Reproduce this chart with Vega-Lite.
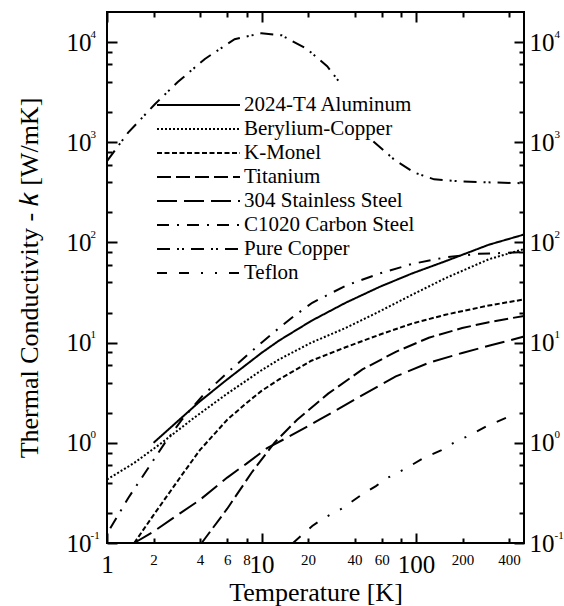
{
  "$schema": "https://vega.github.io/schema/vega-lite/v6.json",
  "width": 417,
  "height": 531,
  "autosize": {"type": "none"},
  "padding": {"left": 107, "top": 12, "right": 40, "bottom": 63},
  "background": "white",
  "config": {
    "view": {"stroke": "black", "strokeWidth": 2},
    "font": "Liberation Serif",
    "axis": {
      "labelFont": "Liberation Serif",
      "titleFont": "Liberation Serif",
      "labelColor": "black",
      "titleColor": "black",
      "tickColor": "black",
      "tickWidth": 2,
      "grid": false,
      "domain": false,
      "titleFontWeight": "normal"
    }
  },
  "data": {
    "values": [
      {"m": "2024-T4 Aluminum", "T": 2, "k": 1.0},
      {"m": "2024-T4 Aluminum", "T": 3, "k": 1.75},
      {"m": "2024-T4 Aluminum", "T": 4, "k": 2.6},
      {"m": "2024-T4 Aluminum", "T": 6, "k": 4.3},
      {"m": "2024-T4 Aluminum", "T": 10, "k": 7.9},
      {"m": "2024-T4 Aluminum", "T": 13, "k": 10.5},
      {"m": "2024-T4 Aluminum", "T": 21, "k": 16.5},
      {"m": "2024-T4 Aluminum", "T": 35, "k": 25},
      {"m": "2024-T4 Aluminum", "T": 58, "k": 36},
      {"m": "2024-T4 Aluminum", "T": 94, "k": 49},
      {"m": "2024-T4 Aluminum", "T": 155, "k": 65},
      {"m": "2024-T4 Aluminum", "T": 296, "k": 95},
      {"m": "2024-T4 Aluminum", "T": 500, "k": 120},

      {"m": "Berylium-Copper", "T": 1, "k": 0.43},
      {"m": "Berylium-Copper", "T": 1.5, "k": 0.63},
      {"m": "Berylium-Copper", "T": 2.26, "k": 1.0},
      {"m": "Berylium-Copper", "T": 3.7, "k": 1.8},
      {"m": "Berylium-Copper", "T": 6, "k": 3.1},
      {"m": "Berylium-Copper", "T": 10, "k": 5.3},
      {"m": "Berylium-Copper", "T": 13, "k": 6.8},
      {"m": "Berylium-Copper", "T": 21, "k": 10},
      {"m": "Berylium-Copper", "T": 35, "k": 14},
      {"m": "Berylium-Copper", "T": 58, "k": 20.5},
      {"m": "Berylium-Copper", "T": 94, "k": 30},
      {"m": "Berylium-Copper", "T": 155, "k": 44},
      {"m": "Berylium-Copper", "T": 296, "k": 68},
      {"m": "Berylium-Copper", "T": 500, "k": 86},

      {"m": "K-Monel", "T": 1.5, "k": 0.1},
      {"m": "K-Monel", "T": 2, "k": 0.19},
      {"m": "K-Monel", "T": 3, "k": 0.46},
      {"m": "K-Monel", "T": 4, "k": 0.85},
      {"m": "K-Monel", "T": 6, "k": 1.7},
      {"m": "K-Monel", "T": 8, "k": 2.5},
      {"m": "K-Monel", "T": 10, "k": 3.3},
      {"m": "K-Monel", "T": 13, "k": 4.3},
      {"m": "K-Monel", "T": 21, "k": 6.6},
      {"m": "K-Monel", "T": 35, "k": 9},
      {"m": "K-Monel", "T": 58, "k": 12},
      {"m": "K-Monel", "T": 94, "k": 15.5},
      {"m": "K-Monel", "T": 155, "k": 19},
      {"m": "K-Monel", "T": 296, "k": 23.5},
      {"m": "K-Monel", "T": 500, "k": 27},

      {"m": "Titanium", "T": 4.1, "k": 0.1},
      {"m": "Titanium", "T": 6, "k": 0.22},
      {"m": "Titanium", "T": 8.6, "k": 0.5},
      {"m": "Titanium", "T": 12.1, "k": 1.0},
      {"m": "Titanium", "T": 17, "k": 1.7},
      {"m": "Titanium", "T": 27, "k": 3.1},
      {"m": "Titanium", "T": 45, "k": 5.4},
      {"m": "Titanium", "T": 74, "k": 8.1},
      {"m": "Titanium", "T": 121, "k": 11.2},
      {"m": "Titanium", "T": 199, "k": 14},
      {"m": "Titanium", "T": 296, "k": 16},
      {"m": "Titanium", "T": 500, "k": 18.5},

      {"m": "304 Stainless Steel", "T": 1.5, "k": 0.1},
      {"m": "304 Stainless Steel", "T": 2, "k": 0.13},
      {"m": "304 Stainless Steel", "T": 3, "k": 0.2},
      {"m": "304 Stainless Steel", "T": 4, "k": 0.27},
      {"m": "304 Stainless Steel", "T": 6, "k": 0.45},
      {"m": "304 Stainless Steel", "T": 8, "k": 0.62},
      {"m": "304 Stainless Steel", "T": 10.8, "k": 0.88},
      {"m": "304 Stainless Steel", "T": 15, "k": 1.15},
      {"m": "304 Stainless Steel", "T": 23.7, "k": 1.7},
      {"m": "304 Stainless Steel", "T": 45, "k": 3.0},
      {"m": "304 Stainless Steel", "T": 74, "k": 4.6},
      {"m": "304 Stainless Steel", "T": 121, "k": 6.3},
      {"m": "304 Stainless Steel", "T": 199, "k": 7.9},
      {"m": "304 Stainless Steel", "T": 296, "k": 9.3},
      {"m": "304 Stainless Steel", "T": 500, "k": 11.5},

      {"m": "C1020 Carbon Steel", "T": 1.05, "k": 0.14},
      {"m": "C1020 Carbon Steel", "T": 1.37, "k": 0.28},
      {"m": "C1020 Carbon Steel", "T": 1.76, "k": 0.5},
      {"m": "C1020 Carbon Steel", "T": 2.37, "k": 1.0},
      {"m": "C1020 Carbon Steel", "T": 3.05, "k": 1.7},
      {"m": "C1020 Carbon Steel", "T": 4.2, "k": 3.0},
      {"m": "C1020 Carbon Steel", "T": 6, "k": 5},
      {"m": "C1020 Carbon Steel", "T": 10, "k": 10},
      {"m": "C1020 Carbon Steel", "T": 13, "k": 14},
      {"m": "C1020 Carbon Steel", "T": 16.3, "k": 18.5},
      {"m": "C1020 Carbon Steel", "T": 21.3, "k": 25},
      {"m": "C1020 Carbon Steel", "T": 35, "k": 37},
      {"m": "C1020 Carbon Steel", "T": 58, "k": 49},
      {"m": "C1020 Carbon Steel", "T": 94, "k": 61},
      {"m": "C1020 Carbon Steel", "T": 155, "k": 71},
      {"m": "C1020 Carbon Steel", "T": 255, "k": 77},
      {"m": "C1020 Carbon Steel", "T": 500, "k": 80},

      {"m": "Pure Copper", "T": 1, "k": 650},
      {"m": "Pure Copper", "T": 1.37, "k": 1250},
      {"m": "Pure Copper", "T": 2.04, "k": 2400},
      {"m": "Pure Copper", "T": 2.87, "k": 4000},
      {"m": "Pure Copper", "T": 4.3, "k": 6800},
      {"m": "Pure Copper", "T": 6.7, "k": 10700},
      {"m": "Pure Copper", "T": 10, "k": 12300},
      {"m": "Pure Copper", "T": 13.5, "k": 11700},
      {"m": "Pure Copper", "T": 19.8, "k": 8500},
      {"m": "Pure Copper", "T": 26.6, "k": 5750},
      {"m": "Pure Copper", "T": 32.7, "k": 3800},
      {"m": "Pure Copper", "T": 42, "k": null},
      {"m": "Pure Copper", "T": 53, "k": 1020},
      {"m": "Pure Copper", "T": 72, "k": 676},
      {"m": "Pure Copper", "T": 97, "k": 500},
      {"m": "Pure Copper", "T": 131, "k": 427},
      {"m": "Pure Copper", "T": 195, "k": 407},
      {"m": "Pure Copper", "T": 305, "k": 398},
      {"m": "Pure Copper", "T": 500, "k": 390},

      {"m": "Teflon", "T": 16, "k": 0.1},
      {"m": "Teflon", "T": 21.3, "k": 0.148},
      {"m": "Teflon", "T": 25.8, "k": 0.18},
      {"m": "Teflon", "T": 33, "k": 0.22},
      {"m": "Teflon", "T": 44, "k": 0.3},
      {"m": "Teflon", "T": 55, "k": 0.37},
      {"m": "Teflon", "T": 66, "k": 0.45},
      {"m": "Teflon", "T": 85, "k": 0.55},
      {"m": "Teflon", "T": 113, "k": 0.71},
      {"m": "Teflon", "T": 145, "k": 0.84},
      {"m": "Teflon", "T": 175, "k": 1.0},
      {"m": "Teflon", "T": 230, "k": 1.22},
      {"m": "Teflon", "T": 283, "k": 1.45},
      {"m": "Teflon", "T": 390, "k": 1.8}
    ]
  },
  "resolve": {"axis": {"x": "independent", "y": "independent"}},
  "layer": [
    {
      "mark": {"type": "line", "color": "black", "strokeWidth": 2, "invalid": "break-paths-show-domains"},
      "encoding": {
        "x": {
          "field": "T", "type": "quantitative",
          "scale": {"type": "log", "domain": [1, 500], "nice": false},
          "axis": {
            "orient": "bottom", "ticks": false,
            "values": [1, 2, 4, 6, 8, 10, 20, 40, 60, 80, 100, 200, 400],
            "labelExpr": "datum.value == 80 ? '' : '' + datum.value",
            "labelFontSize": {"condition": {"test": "datum.value == 1 || datum.value == 10 || datum.value == 100", "value": 25}, "value": 15},
            "labelBaseline": "top", "labelAlign": "center",
            "labelPadding": 9, "labelOverlap": false, "labelFlush": false,
            "title": "Temperature [K]", "titleFontSize": 26, "titlePadding": 2
          }
        },
        "y": {
          "field": "k", "type": "quantitative",
          "scale": {"type": "log", "domain": [0.1, 20000], "nice": false},
          "axis": {
            "orient": "left", "ticks": false,
            "values": [0.1, 1, 10, 100, 1000, 10000],
            "labelExpr": "'10'",
            "labelAlign": "right",
            "labelFontSize": 25, "labelPadding": 16, "labelOverlap": false, "labelFlush": false,
            "title": "Thermal Conductivity - 𝑘 [W/mK]", "titleFontSize": 26, "titlePadding": 24
          }
        },
        "strokeDash": {
          "field": "m", "type": "nominal",
          "scale": {
            "domain": ["2024-T4 Aluminum", "Berylium-Copper", "K-Monel", "Titanium", "304 Stainless Steel", "C1020 Carbon Steel", "Pure Copper", "Teflon"],
            "range": [[1, 0], [2, 2], [5, 2.5], [14, 5], [20, 7], [12, 8, 2, 8], [13, 7, 2, 3, 2, 7], [10, 12, 10, 12, 2, 12, 2, 12]]
          },
          "legend": {
            "orient": "none", "legendX": 49, "legendY": 82, "title": null,
            "padding": 0, "symbolType": "stroke", "symbolSize": 6889,
            "symbolStrokeWidth": 2, "symbolStrokeColor": "black",
            "clipHeight": 22, "rowPadding": 2, "labelOffset": 3,
            "labelFont": "Liberation Serif", "labelFontSize": 21, "labelColor": "black", "labelLimit": 0
          }
        }
      }
    },
    {
      "mark": {"type": "point", "opacity": 0},
      "encoding": {
        "x": {"field": "T", "type": "quantitative", "axis": {"orient": "bottom", "labels": false, "title": null, "ticks": true, "tickSize": -10, "values": [1, 10, 100]}},
        "y": {"field": "k", "type": "quantitative", "axis": {"orient": "left", "labels": false, "title": null, "ticks": true, "tickSize": -10, "values": [0.1, 1, 10, 100, 1000, 10000]}}
      }
    },
    {
      "mark": {"type": "point", "opacity": 0},
      "encoding": {
        "x": {"field": "T", "type": "quantitative", "axis": {"orient": "bottom", "labels": false, "title": null, "ticks": true, "tickSize": -5, "values": [2, 4, 6, 8, 20, 40, 60, 80, 200, 400]}},
        "y": {"field": "k", "type": "quantitative", "axis": {"orient": "left", "labels": false, "title": null, "ticks": true, "tickSize": -5, "values": [0.2, 0.4, 0.6, 0.8, 2, 4, 6, 8, 20, 40, 60, 80, 200, 400, 600, 800, 2000, 4000, 6000, 8000]}}
      }
    },
    {
      "mark": {"type": "point", "opacity": 0},
      "encoding": {
        "x": {"field": "T", "type": "quantitative", "axis": {"orient": "top", "labels": false, "title": null, "ticks": true, "tickSize": -10, "values": [1, 10, 100]}},
        "y": {"field": "k", "type": "quantitative", "axis": {"orient": "right", "labels": false, "title": null, "ticks": true, "tickSize": -10, "values": [0.1, 1, 10, 100, 1000, 10000]}}
      }
    },
    {
      "mark": {"type": "point", "opacity": 0},
      "encoding": {
        "x": {"field": "T", "type": "quantitative", "axis": {"orient": "top", "labels": false, "title": null, "ticks": true, "tickSize": -5, "values": [2, 4, 6, 8, 20, 40, 60, 80, 200, 400]}},
        "y": {"field": "k", "type": "quantitative", "axis": {"orient": "right", "labels": false, "title": null, "ticks": true, "tickSize": -5, "values": [0.2, 0.4, 0.6, 0.8, 2, 4, 6, 8, 20, 40, 60, 80, 200, 400, 600, 800, 2000, 4000, 6000, 8000]}}
      }
    },
    {
      "mark": {"type": "point", "opacity": 0},
      "encoding": {
        "x": {"field": "T", "type": "quantitative", "axis": null},
        "y": {
          "field": "k", "type": "quantitative",
          "axis": {
            "orient": "right", "ticks": false, "title": null,
            "values": [0.1, 1, 10, 100, 1000, 10000],
            "labelExpr": "'10'",
            "labelAlign": "left", "labelFontSize": 25, "labelPadding": 5, "labelOverlap": false, "labelFlush": false
          }
        }
      }
    },
    {
      "mark": {"type": "point", "opacity": 0},
      "encoding": {
        "x": {"field": "T", "type": "quantitative", "axis": null},
        "y": {
          "field": "k", "type": "quantitative",
          "axis": {
            "orient": "right", "ticks": false, "title": null,
            "values": [0.1, 1, 10, 100, 1000, 10000],
            "labelExpr": "datum.value < 0.5 ? '-1' : datum.value < 5 ? '0' : datum.value < 50 ? '1' : datum.value < 500 ? '2' : datum.value < 5000 ? '3' : '4'",
            "labelAlign": "left", "labelBaseline": "middle", "labelFontSize": 11, "labelPadding": 30, "labelOffset": -8, "labelOverlap": false, "labelFlush": false
          }
        }
      }
    },
    {
      "mark": {"type": "point", "opacity": 0},
      "encoding": {
        "x": {"field": "T", "type": "quantitative", "axis": null},
        "y": {
          "field": "k", "type": "quantitative",
          "axis": {
            "orient": "left", "ticks": false, "title": null,
            "values": [0.1, 1, 10, 100, 1000, 10000],
            "labelExpr": "datum.value < 0.5 ? '-1' : datum.value < 5 ? '0' : datum.value < 50 ? '1' : datum.value < 500 ? '2' : datum.value < 5000 ? '3' : '4'",
            "labelAlign": "left", "labelBaseline": "middle", "labelFontSize": 11, "labelPadding": 17, "labelOffset": -8, "labelOverlap": false, "labelFlush": false
          }
        }
      }
    }
  ]
}
